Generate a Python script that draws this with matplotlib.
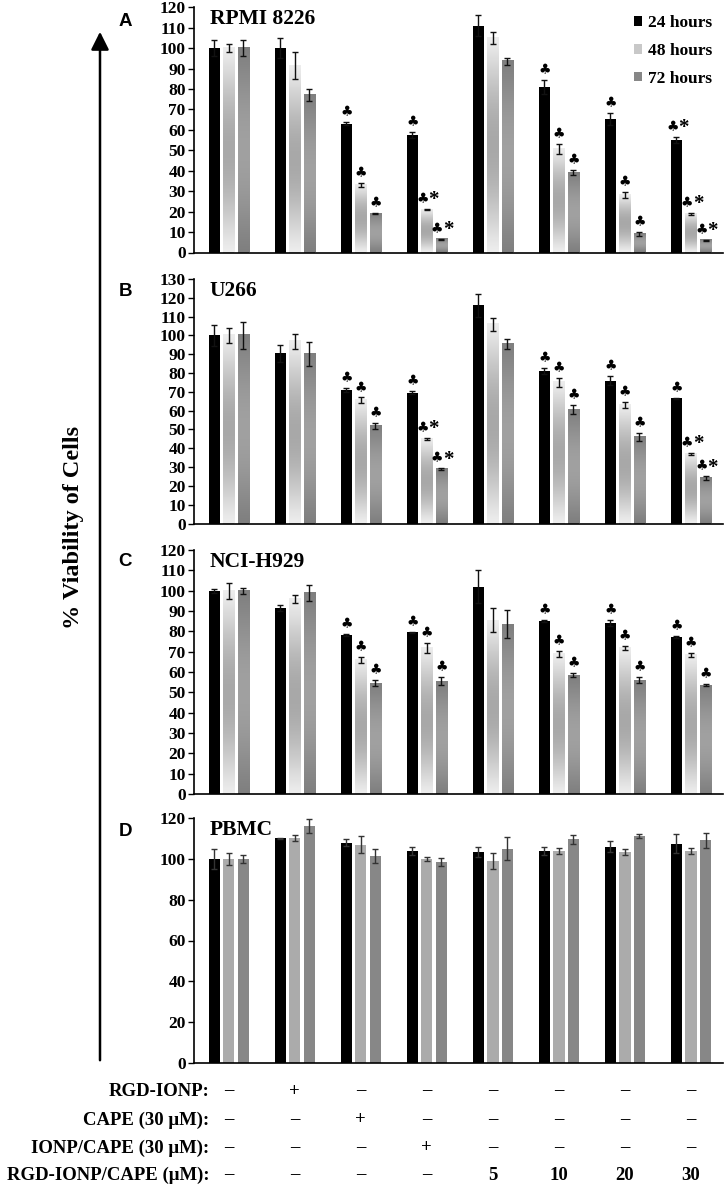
import numpy as np
import matplotlib
matplotlib.use('Agg')
import matplotlib.pyplot as plt
from matplotlib.patches import Patch, FancyArrowPatch
from matplotlib.transforms import blended_transform_factory

plt.rcParams['font.family'] = ['Liberation Serif', 'DejaVu Sans']
plt.rcParams['font.weight'] = 'bold'

# ---------------- data ----------------
groups = ['Control', 'RGD-IONP', 'CAPE', 'IONP/CAPE', '5', '10', '20', '30']
series = ['24 hours', '48 hours', '72 hours']

panel_letters = ['A', 'B', 'C', 'D']
panel_titles = ['RPMI 8226', 'U266', 'NCI-H929', 'PBMC']
panel_ymax = [120, 130, 120, 120]
panel_ystep = [10, 10, 10, 20]

# RPMI 8226
rpmi_24 = [100, 100, 63, 57.5, 111, 81, 65.5, 55]
rpmi_48 = [100, 91.5, 33, 21, 105, 50.5, 28, 19]
rpmi_72 = [100, 77, 19, 6.5, 93.5, 39, 9, 6]
rpmi_24_err = [4, 5, 0.8, 1.3, 5, 3.5, 3, 1.5]
rpmi_48_err = [2, 6.5, 1, 0.4, 3, 2.5, 1.5, 0.5]
rpmi_72_err = [4, 3, 0.4, 0.3, 1.5, 1.3, 0.8, 0.3]
rpmi_24_sig = ['', '', 'c', 'c', '', 'c', 'c', 'c*']
rpmi_48_sig = ['', '', 'c', 'c*', '', 'c', 'c', 'c*']
rpmi_72_sig = ['', '', 'c', 'c*', '', 'c', 'c', 'c*']

# U266
u266_24 = [100, 90.5, 71, 69.5, 116, 81, 76, 66.5]
u266_48 = [100, 97, 65.5, 45, 106, 75, 63, 37]
u266_72 = [100, 90, 52, 29, 95.5, 60.5, 46, 24]
u266_24_err = [5.5, 4.5, 1, 0.8, 6, 1.5, 2.5, 0.3]
u266_48_err = [4, 4, 1.5, 0.5, 3.5, 2.5, 1.5, 0.5]
u266_72_err = [7, 6.5, 1.5, 0.3, 2.5, 2.5, 2, 1]
u266_24_sig = ['', '', 'c', 'c', '', 'c', 'c', 'c']
u266_48_sig = ['', '', 'c', 'c*', '', 'c', 'c', 'c*']
u266_72_sig = ['', '', 'c', 'c*', '', 'c', 'c', 'c*']

# NCI-H929
h929_24 = [100, 91.5, 78, 79.5, 102, 85, 84, 77]
h929_48 = [100, 96, 66, 72, 85.5, 69, 72, 68.5]
h929_72 = [100, 99, 54.5, 55.5, 83.5, 58.5, 56, 53.5]
h929_24_err = [1, 1.5, 0.5, 0.3, 8, 0.5, 1.5, 0.5]
h929_48_err = [4, 2, 1.5, 2.5, 6, 1.5, 1, 1]
h929_72_err = [1.5, 4, 1.5, 2, 7, 0.8, 1.5, 0.5]
h929_24_sig = ['', '', 'c', 'c', '', 'c', 'c', 'c']
h929_48_sig = ['', '', 'c', 'c', '', 'c', 'c', 'c']
h929_72_sig = ['', '', 'c', 'c', '', 'c', 'c', 'c']

# PBMC
pbmc_24 = [100, 110, 108, 104, 103.5, 104, 106, 107.5]
pbmc_48 = [100, 110, 107, 100, 99, 104, 103.5, 104]
pbmc_72 = [100, 116, 101.5, 98.5, 105, 109.5, 111, 109]
pbmc_24_err = [5, 0.3, 1.5, 2, 2.5, 2, 2.5, 4.5]
pbmc_48_err = [3, 1.5, 4, 1, 4, 1.5, 1.5, 1.5]
pbmc_72_err = [2, 3.5, 3.5, 2, 5.5, 2, 1, 3.5]
pbmc_sig = [''] * 8

panels = [
    ([rpmi_24, rpmi_48, rpmi_72], [rpmi_24_err, rpmi_48_err, rpmi_72_err],
     [rpmi_24_sig, rpmi_48_sig, rpmi_72_sig]),
    ([u266_24, u266_48, u266_72], [u266_24_err, u266_48_err, u266_72_err],
     [u266_24_sig, u266_48_sig, u266_72_sig]),
    ([h929_24, h929_48, h929_72], [h929_24_err, h929_48_err, h929_72_err],
     [h929_24_sig, h929_48_sig, h929_72_sig]),
    ([pbmc_24, pbmc_48, pbmc_72], [pbmc_24_err, pbmc_48_err, pbmc_72_err],
     [pbmc_sig, pbmc_sig, pbmc_sig]),
]

row_labels = ['RGD-IONP:', 'CAPE (30 μM):', 'IONP/CAPE (30 μM):', 'RGD-IONP/CAPE (μM):']
rgd_ionp_row = ['–', '+', '–', '–', '–', '–', '–', '–']
cape_row = ['–', '–', '+', '–', '–', '–', '–', '–']
ionp_cape_row = ['–', '–', '–', '+', '–', '–', '–', '–']
rgd_cape_row = ['–', '–', '–', '–', '5', '10', '20', '30']
table_rows = [rgd_ionp_row, cape_row, ionp_cape_row, rgd_cape_row]

# ---------------- style ----------------
W, H = 726, 1184
fig = plt.figure(figsize=(W / 100, H / 100), dpi=100)

ax_left, ax_right = 194, 723
panel_px = [(7.3, 252.5), (279, 523.5), (550, 794), (818, 1063)]

bar_w = 0.17
offsets = [-0.22, 0.0, 0.22]
solid_colors = ['#000000', '#c8c8c8', '#878787']
pbmc_colors = ['#000000', '#ababab', '#878787']
grad_specs = [None,
              (np.array([0.93, 0.93, 0.93]), np.array([0.66, 0.66, 0.66])),
              (np.array([0.50, 0.50, 0.50]), np.array([0.63, 0.63, 0.63]))]


def grad_image(edge, mid, n=120):
    t = np.linspace(0, 1, n)
    w = np.sin(np.pi * t) ** 1.2
    cols = edge[None, :] * (1 - w[:, None]) + mid[None, :] * w[:, None]
    return cols[:, None, :]


x = np.arange(len(groups))
axes = []
for i, (vals, errs, sigs) in enumerate(panels):
    top, bot = panel_px[i]
    ax = fig.add_axes([ax_left / W, 1 - bot / H, (ax_right - ax_left) / W, (bot - top) / H])
    axes.append(ax)
    xlim = (-0.527, 7.485)
    ylim = (0, panel_ymax[i])
    for s in range(3):
        col = pbmc_colors[s] if i == 3 else solid_colors[s]
        bars = ax.bar(x + offsets[s], vals[s], width=bar_w, color=col, zorder=1, linewidth=0)
        if i < 3 and grad_specs[s] is not None:
            img = grad_image(*grad_specs[s])
            for r in bars:
                x0, y0 = r.get_x(), r.get_y()
                ax.imshow(img, extent=[x0, x0 + r.get_width(), y0, y0 + r.get_height()],
                          origin='lower', aspect='auto', zorder=1.5, interpolation='bilinear')
        ecol = '#333333' if i == 3 else '#111111'
        ax.errorbar(x + offsets[s], vals[s], yerr=errs[s], fmt='none', ecolor=ecol,
                    elinewidth=1, capsize=2.2, capthick=1, zorder=3)
        for g in range(len(groups)):
            sg = sigs[s][g]
            if not sg:
                continue
            ytop = vals[s][g] + errs[s][g]
            dx = -3 if '*' in sg else 0
            ax.annotate('♣', (x[g] + offsets[s], ytop), xytext=(dx, 2), textcoords='offset points',
                        ha='center', va='bottom', fontsize=10,
                        family=['DejaVu Sans'], zorder=4, annotation_clip=False)
            if '*' in sg:
                ax.annotate('*', (x[g] + offsets[s], ytop), xytext=(5, -1), textcoords='offset points',
                            ha='center', va='bottom', fontsize=15, fontweight='bold', zorder=4,
                            annotation_clip=False)
    ax.set_xlim(*xlim)
    ax.set_ylim(*ylim)
    ax.set_aspect('auto')
    ax.set_yticks(np.arange(0, panel_ymax[i] + 1, panel_ystep[i]))
    ax.set_xticks([])
    for sp in ['top', 'right']:
        ax.spines[sp].set_visible(False)
    for sp in ['left', 'bottom']:
        ax.spines[sp].set_linewidth(1.2)
    ax.tick_params(axis='y', direction='out', length=4, width=1, pad=2, labelsize=12.5)
    for lab in ax.get_yticklabels():
        lab.set_fontweight('bold')
    ax.text(0.03, 1 - 16.7 / (bot - top), panel_titles[i], transform=ax.transAxes,
            ha='left', va='baseline', fontsize=15.5, fontweight='bold')
    fig.text(125 / W, 1 - (22 + 270 * i) / H, panel_letters[i], ha='center', va='center',
             fontsize=13.5, fontweight='bold', family=['Liberation Sans'])

# legend in panel A
handles = [Patch(facecolor=c, edgecolor='none') for c in solid_colors]
leg = axes[0].legend(handles, series, loc='upper right', bbox_to_anchor=(1.0, 1.01),
                     frameon=False, handlelength=0.45, handleheight=0.45, handletextpad=0.35,
                     labelspacing=0.68, prop={'family': 'Liberation Serif', 'weight': 'bold', 'size': 12.5},
                     borderaxespad=0.2)

# y label and arrow
fig.text(74 / W, 1 - 527 / H, '% Viability of Cells', rotation=90, ha='center', va='center',
         fontsize=17.5, fontweight='bold')
arrow = FancyArrowPatch((100 / W, 1 - 1063 / H), (100 / W, 1 - 29 / H), transform=fig.transFigure,
                        arrowstyle='-|>,head_length=0.6,head_width=0.3', mutation_scale=18,
                        linewidth=1.8, color='black')
fig.add_artist(arrow)

# treatment table
axd = axes[3]
trans = blended_transform_factory(axd.transData, fig.transFigure)
row_y = [1091, 1120, 1148, 1175]
for r, (lab, row) in enumerate(zip(row_labels, table_rows)):
    yf = 1 - row_y[r] / H
    fig.text(209 / W, yf, lab, ha='right', va='center', fontsize=13.5, fontweight='bold')
    for g, v in enumerate(row):
        axd.text(x[g], yf, v, transform=trans, ha='center', va='center', fontsize=13.5,
                 fontweight='bold', clip_on=False)

fig.savefig('out.png', dpi=100)
